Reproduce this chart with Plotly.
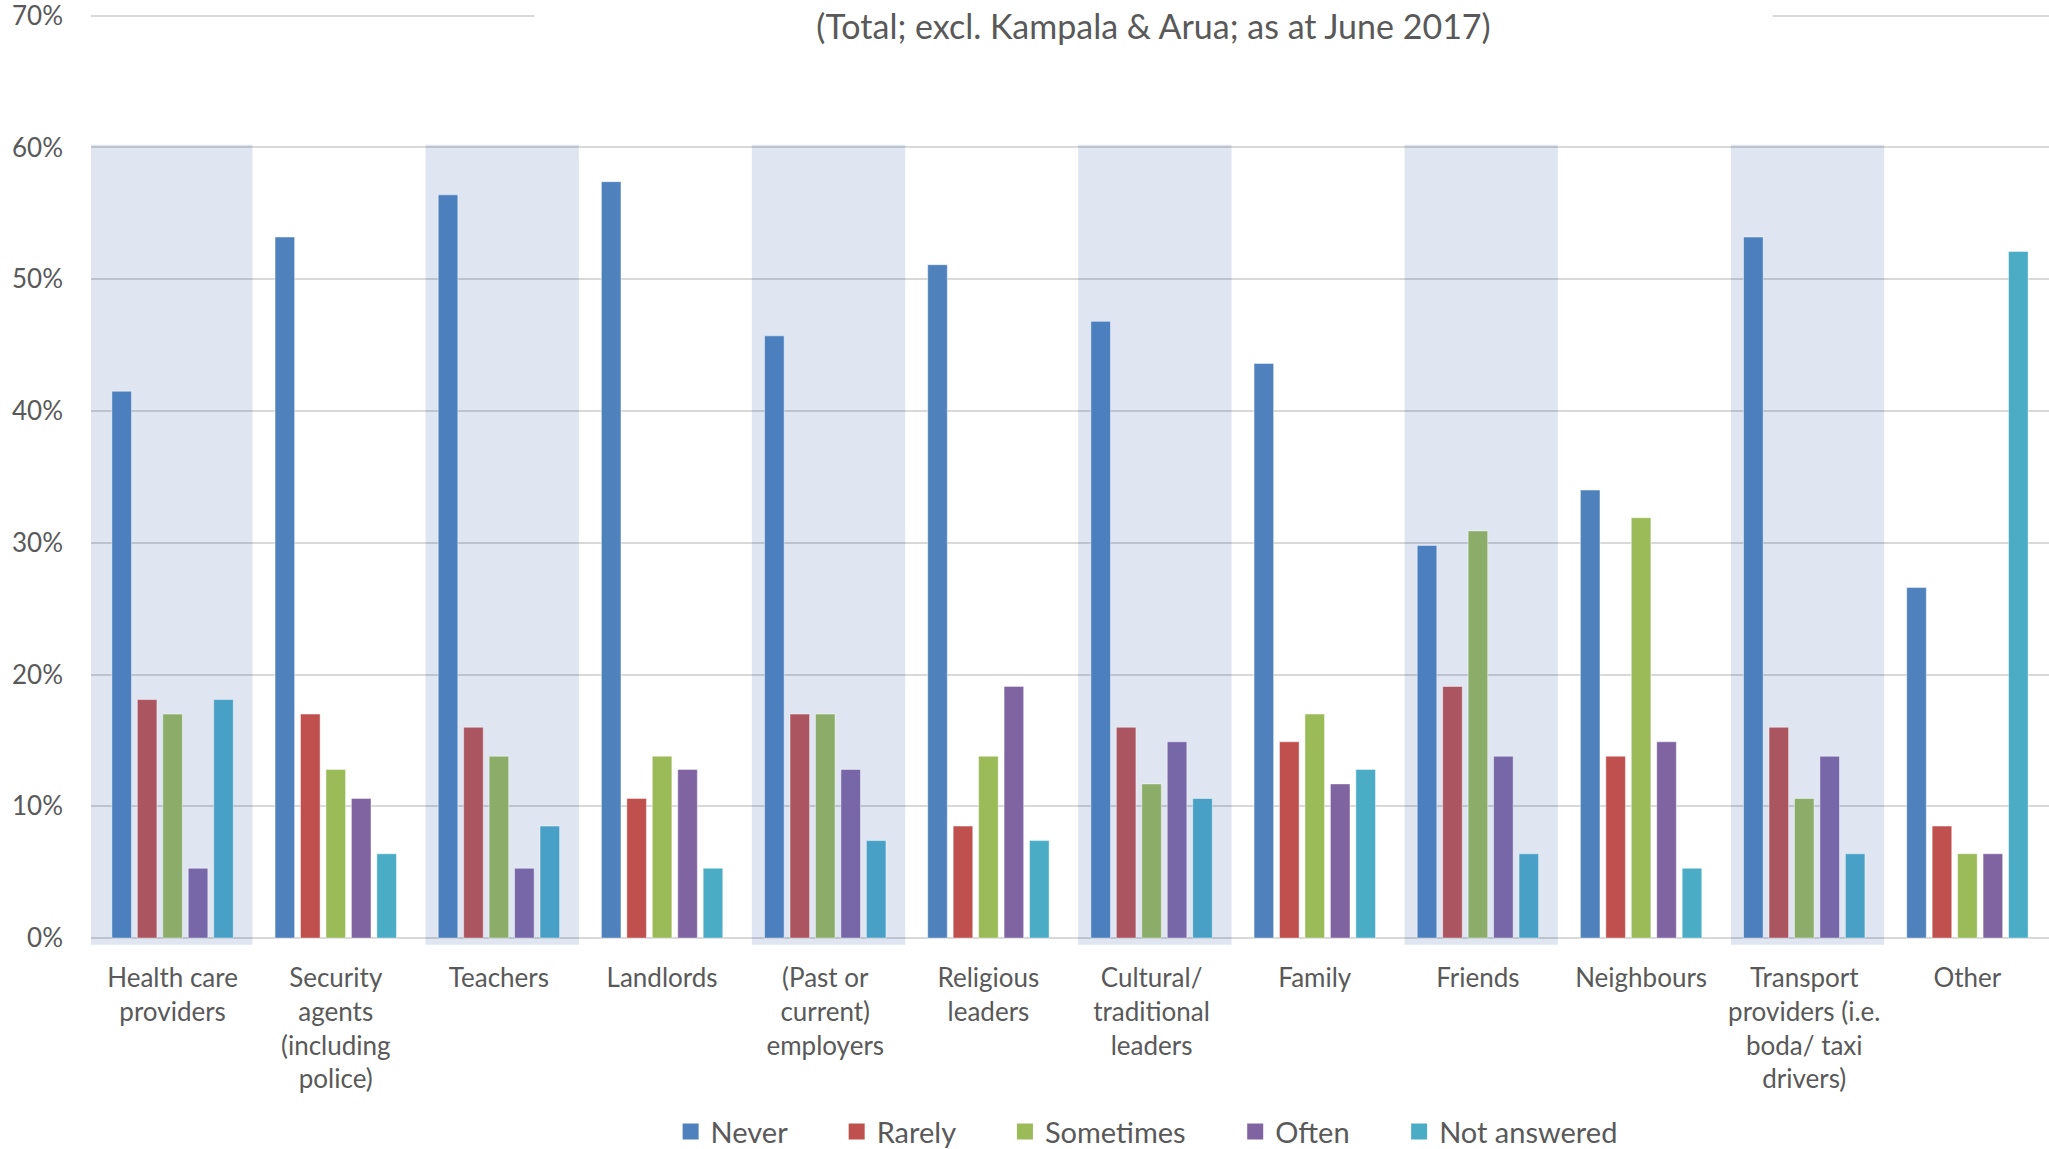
import plotly.graph_objects as go

categories = [
    "Health care<br>providers",
    "Security<br>agents<br>(including<br>police)",
    "Teachers",
    "Landlords",
    "(Past or<br>current)<br>employers",
    "Religious<br>leaders",
    "Cultural/<br>traditional<br>leaders",
    "Family",
    "Friends",
    "Neighbours",
    "Transport<br>providers (i.e.<br>boda/ taxi<br>drivers)",
    "Other",
]

never =        [41.5, 53.2, 56.4, 57.4, 45.7, 51.1, 46.8, 43.6, 29.8, 34.0, 53.2, 26.6]
rarely =       [18.1, 17.0, 16.0, 10.6, 17.0,  8.5, 16.0, 14.9, 19.1, 13.8, 16.0,  8.5]
sometimes =    [17.0, 12.8, 13.8, 13.8, 17.0, 13.8, 11.7, 17.0, 30.9, 31.9, 10.6,  6.4]
often =        [ 5.3, 10.6,  5.3, 12.8, 12.8, 19.1, 14.9, 11.7, 13.8, 14.9, 13.8,  6.4]
not_answered = [18.1,  6.4,  8.5,  5.3,  7.4,  7.4, 10.6, 12.8,  6.4,  5.3,  6.4, 52.1]

series_names = ["Never", "Rarely", "Sometimes", "Often", "Not answered"]
series_values = [never, rarely, sometimes, often, not_answered]

title_text = "(Total; excl. Kampala & Arua; as at June 2017)"
y_ticks = [0, 10, 20, 30, 40, 50, 60, 70]
y_tick_labels = ["0%", "10%", "20%", "30%", "40%", "50%", "60%", "70%"]

normal_colors = ["#4F81BD", "#C0504D", "#9BBB59", "#8064A2", "#4BACC6"]
muted_colors = ["#4B7FBE", "#AB5560", "#8CAD6A", "#7767A8", "#48A0C6"]
shaded = [i % 2 == 0 for i in range(len(categories))]

FONT = "Lato, 'Open Sans', sans-serif"
TXT = "#595959"
GRID = "rgba(0,0,0,0.15)"
NBSP = "\u00a0"

fig = go.Figure()

x_idx = list(range(len(categories)))
for name, vals, nc, mc in zip(series_names, series_values, normal_colors, muted_colors):
    cols = [mc if s else nc for s in shaded]
    fig.add_trace(go.Bar(
        name=name, x=x_idx, y=vals,
        marker=dict(color=cols, line=dict(color="rgba(255,255,255,0.45)", width=1)),
        showlegend=False,
    ))

for k, (name, nc) in enumerate(zip(series_names, normal_colors)):
    pad = NBSP * 6 if k < len(series_names) - 1 else ""
    fig.add_trace(go.Scatter(
        name=name + pad, x=[None], y=[None], mode="markers",
        marker=dict(symbol="square", size=17, color=nc),
        showlegend=True,
    ))

for i, s in enumerate(shaded):
    if s:
        fig.add_shape(type="rect", xref="x", yref="y",
                      x0=(-0.5 if i == 0 else i - 0.45), x1=i + 0.49, y0=-0.5, y1=60.2,
                      fillcolor="#DFE6F2", line=dict(width=0), layer="below")

fig.add_annotation(
    text=title_text, xref="paper", yref="paper", x=0.5424, y=1.0,
    xanchor="center", yanchor="middle", showarrow=False, yshift=-12,
    font=dict(family=FONT, size=34, color=TXT),
    bgcolor="white", width=1235, height=44,
)

fig.update_layout(
    width=2049, height=1149,
    paper_bgcolor="white", plot_bgcolor="white",
    margin=dict(l=91, r=0, t=13, b=203),
    barmode="group", bargap=0.22, bargroupgap=0.23,
    font=dict(family=FONT, size=26, color=TXT),
    legend=dict(orientation="h", xref="container", yref="container",
                x=0.5596, y=0.015, xanchor="center", yanchor="middle",
                font=dict(family=FONT, size=29, color=TXT),
                traceorder="normal"),
)

fig.update_xaxes(
    tickmode="array", tickvals=x_idx, ticktext=categories,
    range=[-0.5, len(categories) - 0.5],
    showgrid=False, showline=False, zeroline=False, ticks="",
    tickfont=dict(family=FONT, size=26, color=TXT),
    ticklabelstandoff=14,
)
fig.update_yaxes(
    range=[-0.6, 70.2], tickmode="array", tickvals=y_ticks, ticktext=y_tick_labels,
    showgrid=True, gridcolor=GRID, gridwidth=1.5,
    zeroline=True, zerolinecolor=GRID, zerolinewidth=1.5,
    showline=False, ticks="", ticklabeloverflow="allow",
    tickfont=dict(family=FONT, size=26, color=TXT),
    ticklabelstandoff=27,
)

fig.write_html("out.html", config={"displayModeBar": False},
               post_script="document.body.style.margin='0px';")
